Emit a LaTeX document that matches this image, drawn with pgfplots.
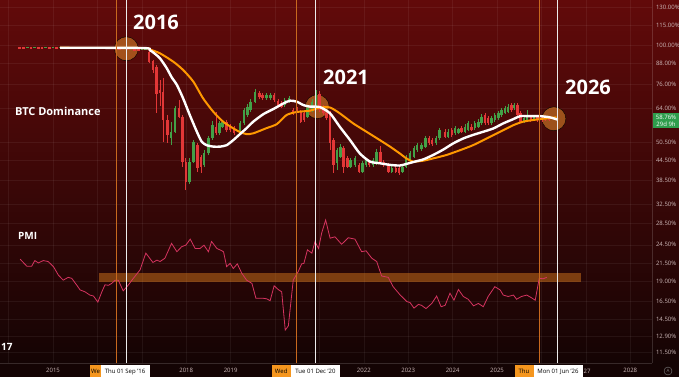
\documentclass[border=0pt]{standalone}
\usepackage{fontspec}
\setmainfont{Open Sans}
\usepackage{pgfplots}
\pgfplotsset{compat=1.18}
\definecolor{bgtop}{RGB}{98,10,10}
\definecolor{bgbot}{RGB}{20,4,4}
\definecolor{cgreen}{RGB}{67,160,71}
\definecolor{cred}{RGB}{226,55,55}
\definecolor{maorange}{RGB}{255,152,0}
\definecolor{pmicol}{RGB}{214,52,96}
\definecolor{vorange}{RGB}{200,105,30}
\definecolor{ticktxt}{RGB}{205,185,185}
\definecolor{boxorange}{RGB}{245,150,30}
\definecolor{pricegreen}{RGB}{46,158,76}
\definecolor{circorange}{RGB}{215,130,40}
\definecolor{bandorange}{RGB}{230,130,30}
\begin{document}
\begin{tikzpicture}
\useasboundingbox (0,0) rectangle (679pt,377pt);
\shade[top color=bgtop, bottom color=bgbot] (0pt,14pt) rectangle (679pt,377pt);
\fill[bgbot] (0,0) rectangle (679pt,14pt);
% axis A: ticks, grid and highlight circles
\begin{axis}[at={(0pt,14pt)}, anchor=south west, scale only axis, width=652pt, height=363pt,
  xmin=2013.806, xmax=2028.49, ymode=log, ymin=10.66, ymax=137.3,
  axis x line*=bottom, axis y line*=right,
  axis line style={draw=white, draw opacity=0.15, line width=0.5pt},
  major tick length=0pt,
  xtick={2014,2015,2016,2017,2018,2019,2020,2021,2022,2023,2024,2025,2026,2027,2028},
  xticklabels={,2015,,,2018,2019,,,2022,2023,2024,2025,,,2028},
  ytick={130,115,100,88,76,64,50.5,44.5,38.5,32.5,28.5,24.5,21.5,19,16.5,14.5,12.9,11.5},
  yticklabels={130.00\%,115.00\%,100.00\%,88.00\%,76.00\%,64.00\%,50.50\%,44.50\%,38.50\%,32.50\%,28.50\%,24.50\%,21.50\%,19.00\%,16.50\%,14.50\%,12.90\%,11.50\%},
  grid=major, grid style={draw=white, draw opacity=0.06, line width=0.5pt},
  tick label style={font=\fontsize{6}{7}\selectfont, text=ticktxt},
  xticklabel style={anchor=center, yshift=-7.5pt},
  yticklabel style={anchor=west, xshift=0.5pt}, clip=true]
\addplot[only marks, mark=*, mark size=12pt, mark options={fill=circorange, fill opacity=0.6, draw=none}] coordinates {
(2016.65,97.4)(2020.95,64.8)(2026.28,59.5)};
\end{axis}
% axis B: candles
\begin{axis}[at={(0pt,14pt)}, anchor=south west, scale only axis, width=652pt, height=363pt,
  xmin=2013.806, xmax=2028.49, ymode=log, ymin=10.66, ymax=137.3,
  hide axis, unbounded coords=jump, filter discard warning=false, clip=true]
\addplot[cred, line width=2.5pt] coordinates {
(2014.25,98.3)(2014.25,97.5)(2014.25,nan)(2014.33,98.3)(2014.33,97.5)(2014.33,nan)
(2014.50,98.3)(2014.50,97.5)(2014.50,nan)(2014.67,98.3)(2014.67,97.5)(2014.67,nan)
(2014.75,98.3)(2014.75,97.5)(2014.75,nan)(2014.92,98.3)(2014.92,97.5)(2014.92,nan)
(2015.08,98.3)(2015.08,97.5)(2015.08,nan)(2015.25,98.3)(2015.25,97.5)(2015.25,nan)
(2015.42,98.3)(2015.42,97.5)(2015.42,nan)(2015.58,98.3)(2015.58,97.5)(2015.58,nan)
(2015.75,98.3)(2015.75,97.5)(2015.75,nan)(2015.92,98.3)(2015.92,97.5)(2015.92,nan)
(2016.08,98.3)(2016.08,97.5)(2016.08,nan)(2016.25,98.3)(2016.25,97.5)(2016.25,nan)
(2016.42,97.8)(2016.42,96.7)(2016.42,nan)(2016.50,97.8)(2016.50,96.6)(2016.50,nan)
(2016.67,97.6)(2016.67,96.5)(2016.67,nan)(2016.83,97.6)(2016.83,96.2)(2016.83,nan)
(2016.92,97.4)(2016.92,96.0)(2016.92,nan)};
\addplot[cgreen, line width=2.5pt] coordinates {
(2014.42,98.3)(2014.42,97.6)(2014.42,nan)(2014.58,98.3)(2014.58,97.6)(2014.58,nan)
(2014.83,98.3)(2014.83,97.6)(2014.83,nan)(2015.00,98.3)(2015.00,97.6)(2015.00,nan)
(2015.17,98.3)(2015.17,97.6)(2015.17,nan)(2015.33,98.3)(2015.33,97.6)(2015.33,nan)
(2015.50,98.3)(2015.50,97.6)(2015.50,nan)(2015.67,98.3)(2015.67,97.6)(2015.67,nan)
(2015.83,98.3)(2015.83,97.6)(2015.83,nan)(2016.00,98.3)(2016.00,97.6)(2016.00,nan)
(2016.17,98.3)(2016.17,97.6)(2016.17,nan)(2016.33,98.3)(2016.33,97.6)(2016.33,nan)
(2016.58,97.8)(2016.58,96.9)(2016.58,nan)(2016.75,97.8)(2016.75,96.9)(2016.75,nan)
(2017.00,97.6)(2017.00,96.6)(2017.00,nan)(2017.08,97.4)(2017.08,96.4)(2017.08,nan)};
\addplot[cred, line width=0.7pt] coordinates {
(2017.16,96.5)(2017.16,88.1)(2017.16,nan)(2017.25,90.0)(2017.25,82.2)(2017.25,nan)
(2017.33,86.9)(2017.33,61.9)(2017.33,nan)(2017.41,78.2)(2017.41,65.1)(2017.41,nan)
(2017.48,79.3)(2017.48,50.6)(2017.48,nan)(2017.58,61.1)(2017.58,50.1)(2017.58,nan)
(2017.84,67.9)(2017.84,59.8)(2017.84,nan)(2017.92,61.1)(2017.92,42.5)(2017.92,nan)
(2017.99,45.1)(2017.99,36.0)(2017.99,nan)(2018.25,50.1)(2018.25,40.9)(2018.25,nan)
(2018.33,46.1)(2018.33,40.6)(2018.33,nan)(2018.67,62.4)(2018.67,53.1)(2018.67,nan)
(2018.91,59.0)(2018.91,54.2)(2018.91,nan)(2018.99,57.3)(2018.99,54.2)(2018.99,nan)
(2019.08,56.5)(2019.08,53.1)(2019.08,nan)(2019.65,72.3)(2019.65,68.4)(2019.65,nan)
(2019.72,71.2)(2019.72,67.9)(2019.72,nan)(2019.98,71.2)(2019.98,67.0)(2019.98,nan)
(2020.07,68.4)(2020.07,64.6)(2020.07,nan)(2020.15,67.4)(2020.15,64.2)(2020.15,nan)
(2020.41,64.2)(2020.41,61.1)(2020.41,nan)(2020.49,66.0)(2020.49,61.1)(2020.49,nan)
(2020.58,63.3)(2020.58,57.8)(2020.58,nan)(2020.65,62.8)(2020.65,58.2)(2020.65,nan)
(2021.00,72.3)(2021.00,62.4)(2021.00,nan)(2021.09,65.5)(2021.09,61.1)(2021.09,nan)
(2021.16,62.8)(2021.16,59.0)(2021.16,nan)(2021.24,62.8)(2021.24,47.7)(2021.24,nan)
(2021.32,51.9)(2021.32,40.6)(2021.32,nan)(2021.54,49.1)(2021.54,40.6)(2021.54,nan)
(2021.63,45.8)(2021.63,42.1)(2021.63,nan)(2021.89,43.6)(2021.89,40.6)(2021.89,nan)
(2022.12,44.5)(2022.12,42.4)(2022.12,nan)(2022.38,49.1)(2022.38,43.6)(2022.38,nan)
(2022.45,44.5)(2022.45,42.4)(2022.45,nan)(2022.55,43.6)(2022.55,40.6)(2022.55,nan)
(2022.72,42.7)(2022.72,40.6)(2022.72,nan)(2022.79,42.7)(2022.79,40.0)(2022.79,nan)
(2023.47,52.7)(2023.47,49.4)(2023.47,nan)(2023.54,51.9)(2023.54,49.1)(2023.54,nan)
(2023.83,55.3)(2023.83,51.9)(2023.83,nan)(2023.98,55.7)(2023.98,52.3)(2023.98,nan)
(2024.20,56.5)(2024.20,53.8)(2024.20,nan)(2024.43,57.3)(2024.43,54.6)(2024.43,nan)
(2024.73,61.9)(2024.73,56.9)(2024.73,nan)(2024.80,60.7)(2024.80,56.9)(2024.80,nan)
(2025.33,66.5)(2025.33,62.4)(2025.33,nan)(2025.46,66.5)(2025.46,60.2)(2025.46,nan)
(2025.53,62.8)(2025.53,57.8)(2025.53,nan)(2025.76,61.1)(2025.76,58.2)(2025.76,nan)
(2025.91,61.1)(2025.91,58.2)(2025.91,nan)(2026.01,61.1)(2026.01,58.2)(2026.01,nan)
(2026.08,60.7)(2026.08,58.6)(2026.08,nan)(2026.17,60.4)(2026.17,58.6)(2026.17,nan)};
\addplot[cred, line width=2.5pt] coordinates {
(2017.16,95.4)(2017.16,88.9)(2017.16,nan)(2017.25,89.4)(2017.25,83.9)(2017.25,nan)
(2017.33,85.8)(2017.33,71.0)(2017.33,nan)(2017.41,72.8)(2017.41,71.2)(2017.41,nan)
(2017.48,72.0)(2017.48,59.0)(2017.48,nan)(2017.58,59.0)(2017.58,53.1)(2017.58,nan)
(2017.84,64.2)(2017.84,60.4)(2017.84,nan)(2017.92,60.4)(2017.92,44.0)(2017.92,nan)
(2017.99,44.0)(2017.99,38.2)(2017.99,nan)(2018.25,49.4)(2018.25,42.0)(2018.25,nan)
(2018.33,45.6)(2018.33,42.5)(2018.33,nan)(2018.67,56.2)(2018.67,53.7)(2018.67,nan)
(2018.91,58.0)(2018.91,55.0)(2018.91,nan)(2018.99,56.7)(2018.99,55.0)(2018.99,nan)
(2019.08,55.6)(2019.08,53.7)(2019.08,nan)(2019.65,71.4)(2019.65,69.2)(2019.65,nan)
(2019.72,70.3)(2019.72,68.7)(2019.72,nan)(2019.98,70.3)(2019.98,67.9)(2019.98,nan)
(2020.07,67.6)(2020.07,65.5)(2020.07,nan)(2020.15,66.3)(2020.15,64.8)(2020.15,nan)
(2020.41,63.3)(2020.41,61.8)(2020.41,nan)(2020.49,64.8)(2020.49,61.8)(2020.49,nan)
(2020.58,62.5)(2020.58,58.3)(2020.58,nan)(2020.65,61.8)(2020.65,59.0)(2020.65,nan)
(2021.00,71.0)(2021.00,63.3)(2021.00,nan)(2021.09,64.8)(2021.09,61.8)(2021.09,nan)
(2021.16,61.8)(2021.16,59.7)(2021.16,nan)(2021.24,61.8)(2021.24,50.0)(2021.24,nan)
(2021.32,51.2)(2021.32,43.0)(2021.32,nan)(2021.54,48.3)(2021.54,42.5)(2021.54,nan)
(2021.63,45.0)(2021.63,42.5)(2021.63,nan)(2021.89,43.0)(2021.89,41.0)(2021.89,nan)
(2022.12,44.0)(2022.12,43.0)(2022.12,nan)(2022.38,47.2)(2022.38,44.0)(2022.38,nan)
(2022.45,44.0)(2022.45,43.0)(2022.45,nan)(2022.55,43.0)(2022.55,41.0)(2022.55,nan)
(2022.72,42.0)(2022.72,41.0)(2022.72,nan)(2022.79,42.0)(2022.79,40.5)(2022.79,nan)
(2023.47,51.8)(2023.47,50.0)(2023.47,nan)(2023.54,51.2)(2023.54,49.8)(2023.54,nan)
(2023.83,54.3)(2023.83,52.4)(2023.83,nan)(2023.98,55.0)(2023.98,53.1)(2023.98,nan)
(2024.20,55.6)(2024.20,54.3)(2024.20,nan)(2024.43,56.2)(2024.43,55.0)(2024.43,nan)
(2024.73,61.1)(2024.73,57.6)(2024.73,nan)(2024.80,59.7)(2024.80,57.6)(2024.80,nan)
(2025.33,65.5)(2025.33,63.3)(2025.33,nan)(2025.46,65.5)(2025.46,61.1)(2025.46,nan)
(2025.53,61.8)(2025.53,58.3)(2025.53,nan)(2025.76,60.4)(2025.76,59.0)(2025.76,nan)
(2025.91,60.4)(2025.91,59.0)(2025.91,nan)(2026.01,60.1)(2026.01,59.0)(2026.01,nan)
(2026.08,60.2)(2026.08,59.4)(2026.08,nan)(2026.17,59.8)(2026.17,58.8)(2026.17,nan)};
\addplot[cgreen, line width=0.7pt] coordinates {
(2017.66,58.2)(2017.66,49.4)(2017.66,nan)(2017.75,65.1)(2017.75,53.8)(2017.75,nan)
(2018.07,45.1)(2018.07,37.6)(2018.07,nan)(2018.16,51.2)(2018.16,43.6)(2018.16,nan)
(2018.40,47.7)(2018.40,42.4)(2018.40,nan)(2018.50,52.7)(2018.50,46.1)(2018.50,nan)
(2018.59,58.6)(2018.59,51.2)(2018.59,nan)(2018.75,58.6)(2018.75,53.1)(2018.75,nan)
(2018.82,59.0)(2018.82,55.7)(2018.82,nan)(2019.21,58.6)(2019.21,53.1)(2019.21,nan)
(2019.30,64.2)(2019.30,56.9)(2019.30,nan)(2019.38,66.0)(2019.38,60.2)(2019.38,nan)
(2019.45,68.4)(2019.45,62.4)(2019.45,nan)(2019.55,73.4)(2019.55,66.5)(2019.55,nan)
(2019.81,71.2)(2019.81,67.9)(2019.81,nan)(2019.90,71.2)(2019.90,67.9)(2019.90,nan)
(2020.22,68.9)(2020.22,64.6)(2020.22,nan)(2020.32,69.8)(2020.32,66.5)(2020.32,nan)
(2020.73,65.1)(2020.73,59.8)(2020.73,nan)(2020.83,68.4)(2020.83,62.4)(2020.83,nan)
(2020.92,72.8)(2020.92,64.2)(2020.92,nan)(2021.40,48.4)(2021.40,41.5)(2021.40,nan)
(2021.48,49.8)(2021.48,45.1)(2021.48,nan)(2021.70,45.1)(2021.70,42.1)(2021.70,nan)
(2021.80,45.8)(2021.80,42.4)(2021.80,nan)(2021.97,44.2)(2021.97,40.6)(2021.97,nan)
(2022.05,45.1)(2022.05,42.4)(2022.05,nan)(2022.21,45.1)(2022.21,42.4)(2022.21,nan)
(2022.29,48.1)(2022.29,43.0)(2022.29,nan)(2022.63,42.7)(2022.63,40.6)(2022.63,nan)
(2022.87,43.0)(2022.87,40.6)(2022.87,nan)(2022.95,46.1)(2022.95,42.1)(2022.95,nan)
(2023.04,47.4)(2023.04,43.9)(2023.04,nan)(2023.13,49.1)(2023.13,45.1)(2023.13,nan)
(2023.20,50.1)(2023.20,47.1)(2023.20,nan)(2023.30,50.1)(2023.30,47.4)(2023.30,nan)
(2023.39,52.7)(2023.39,48.4)(2023.39,nan)(2023.63,52.7)(2023.63,49.4)(2023.63,nan)
(2023.70,55.7)(2023.70,51.2)(2023.70,nan)(2023.90,55.3)(2023.90,51.9)(2023.90,nan)
(2024.05,56.5)(2024.05,53.1)(2024.05,nan)(2024.13,55.7)(2024.13,53.4)(2024.13,nan)
(2024.28,57.3)(2024.28,53.8)(2024.28,nan)(2024.35,58.6)(2024.35,54.6)(2024.35,nan)
(2024.50,58.6)(2024.50,55.0)(2024.50,nan)(2024.58,59.4)(2024.58,55.7)(2024.58,nan)
(2024.65,61.5)(2024.65,56.9)(2024.65,nan)(2024.88,60.7)(2024.88,56.9)(2024.88,nan)
(2024.95,61.9)(2024.95,58.2)(2024.95,nan)(2025.03,62.8)(2025.03,59.0)(2025.03,nan)
(2025.10,64.2)(2025.10,60.2)(2025.10,nan)(2025.18,65.1)(2025.18,61.5)(2025.18,nan)
(2025.25,66.0)(2025.25,61.9)(2025.25,nan)(2025.38,66.5)(2025.38,63.3)(2025.38,nan)
(2025.61,60.7)(2025.61,57.8)(2025.61,nan)(2025.68,63.3)(2025.68,58.2)(2025.68,nan)
(2025.83,61.1)(2025.83,58.6)(2025.83,nan)};
\addplot[cgreen, line width=2.5pt] coordinates {
(2017.66,54.3)(2017.66,51.8)(2017.66,nan)(2017.75,64.2)(2017.75,54.3)(2017.75,nan)
(2018.07,44.0)(2018.07,38.2)(2018.07,nan)(2018.16,50.6)(2018.16,44.0)(2018.16,nan)
(2018.40,46.6)(2018.40,43.0)(2018.40,nan)(2018.50,51.8)(2018.50,46.6)(2018.50,nan)
(2018.59,56.9)(2018.59,51.8)(2018.59,nan)(2018.75,57.6)(2018.75,53.7)(2018.75,nan)
(2018.82,58.0)(2018.82,56.2)(2018.82,nan)(2019.21,57.6)(2019.21,53.7)(2019.21,nan)
(2019.30,63.3)(2019.30,57.6)(2019.30,nan)(2019.38,64.8)(2019.38,61.1)(2019.38,nan)
(2019.45,67.1)(2019.45,63.3)(2019.45,nan)(2019.55,71.9)(2019.55,67.1)(2019.55,nan)
(2019.81,70.3)(2019.81,68.7)(2019.81,nan)(2019.90,70.3)(2019.90,68.7)(2019.90,nan)
(2020.22,67.9)(2020.22,65.5)(2020.22,nan)(2020.32,68.7)(2020.32,67.1)(2020.32,nan)
(2020.73,64.1)(2020.73,60.4)(2020.73,nan)(2020.83,67.1)(2020.83,63.3)(2020.83,nan)
(2020.92,71.0)(2020.92,64.8)(2020.92,nan)(2021.40,47.7)(2021.40,43.5)(2021.40,nan)
(2021.48,48.9)(2021.48,45.6)(2021.48,nan)(2021.70,44.5)(2021.70,42.5)(2021.70,nan)
(2021.80,45.0)(2021.80,43.0)(2021.80,nan)(2021.97,43.5)(2021.97,41.0)(2021.97,nan)
(2022.05,44.5)(2022.05,43.0)(2022.05,nan)(2022.21,44.5)(2022.21,43.0)(2022.21,nan)
(2022.29,47.2)(2022.29,43.5)(2022.29,nan)(2022.63,42.0)(2022.63,41.0)(2022.63,nan)
(2022.87,42.5)(2022.87,41.0)(2022.87,nan)(2022.95,45.6)(2022.95,42.5)(2022.95,nan)
(2023.04,46.6)(2023.04,44.5)(2023.04,nan)(2023.13,48.3)(2023.13,45.6)(2023.13,nan)
(2023.20,49.4)(2023.20,47.7)(2023.20,nan)(2023.30,49.4)(2023.30,48.0)(2023.30,nan)
(2023.39,51.8)(2023.39,48.9)(2023.39,nan)(2023.63,51.8)(2023.63,50.0)(2023.63,nan)
(2023.70,55.0)(2023.70,51.8)(2023.70,nan)(2023.90,54.3)(2023.90,52.4)(2023.90,nan)
(2024.05,55.7)(2024.05,53.7)(2024.05,nan)(2024.13,55.2)(2024.13,53.9)(2024.13,nan)
(2024.28,56.2)(2024.28,54.3)(2024.28,nan)(2024.35,57.6)(2024.35,55.0)(2024.35,nan)
(2024.50,57.6)(2024.50,55.6)(2024.50,nan)(2024.58,58.3)(2024.58,56.2)(2024.58,nan)
(2024.65,60.4)(2024.65,57.6)(2024.65,nan)(2024.88,59.7)(2024.88,57.6)(2024.88,nan)
(2024.95,61.1)(2024.95,59.0)(2024.95,nan)(2025.03,61.8)(2025.03,59.7)(2025.03,nan)
(2025.10,63.3)(2025.10,61.1)(2025.10,nan)(2025.18,64.1)(2025.18,62.1)(2025.18,nan)
(2025.25,64.8)(2025.25,62.5)(2025.25,nan)(2025.38,65.5)(2025.38,64.1)(2025.38,nan)
(2025.61,59.7)(2025.61,58.3)(2025.61,nan)(2025.68,60.4)(2025.68,59.0)(2025.68,nan)
(2025.83,60.1)(2025.83,59.3)(2025.83,nan)};
\end{axis}
% axis D: moving averages
\begin{axis}[at={(0pt,14pt)}, anchor=south west, scale only axis, width=652pt, height=363pt,
  xmin=2013.806, xmax=2028.49, ymode=log, ymin=10.66, ymax=137.3, hide axis, clip=true]
\addplot[maorange, line width=2pt, smooth, tension=0.4] coordinates {
(2015.16,98.1)(2017.03,97.9)(2017.18,96.9)(2017.41,94.3)(2017.71,88.9)(2017.93,83.9)
(2018.16,77.3)(2018.38,68.7)(2018.61,62.5)(2018.83,58.3)(2019.06,55.6)(2019.21,54.2)
(2019.36,53.4)(2019.51,53.7)(2019.81,55.7)(2020.04,57.3)(2020.26,61.1)(2020.49,62.4)
(2020.79,63.0)(2021.01,64.4)(2021.24,64.4)(2021.46,61.8)(2021.76,57.6)(2022.06,54.3)
(2022.36,51.2)(2022.59,48.9)(2022.81,46.6)(2022.96,45.0)(2023.11,44.0)(2023.34,44.3)
(2023.56,45.0)(2023.86,46.1)(2024.17,47.7)(2024.46,49.4)(2024.77,51.8)(2025.07,54.3)
(2025.37,56.9)(2025.59,58.3)(2025.82,59.0)(2026.12,59.7)(2026.34,60.1)};
\addplot[white, line width=2.4pt, smooth, tension=0.4] coordinates {
(2015.16,98.1)(2017.03,97.9)(2017.18,96.5)(2017.30,93.9)(2017.41,91.0)(2017.56,85.0)
(2017.67,79.8)(2017.79,75.5)(2017.93,68.7)(2018.08,61.1)(2018.24,54.3)(2018.35,50.6)
(2018.46,49.4)(2018.61,48.9)(2018.76,48.9)(2018.91,49.4)(2019.06,51.2)(2019.21,53.4)
(2019.36,55.7)(2019.51,58.3)(2019.74,61.5)(2019.96,63.7)(2020.19,66.3)(2020.34,67.6)
(2020.49,67.1)(2020.64,65.5)(2020.79,64.8)(2021.01,64.6)(2021.24,61.8)(2021.46,56.2)
(2021.69,51.2)(2021.91,46.6)(2022.14,44.0)(2022.36,43.5)(2022.59,43.0)(2022.81,42.8)
(2022.96,43.3)(2023.15,44.0)(2023.34,44.7)(2023.56,46.1)(2023.79,47.9)(2024.01,50.0)
(2024.24,51.8)(2024.46,53.1)(2024.69,54.3)(2024.92,55.6)(2025.14,57.6)(2025.36,59.3)
(2025.52,60.6)(2025.74,60.6)(2025.97,60.6)(2026.19,60.1)(2026.37,59.1)};
\end{axis}
% axis C: PMI
\begin{axis}[at={(0pt,14pt)}, anchor=south west, scale only axis, width=652pt, height=363pt,
  xmin=2013.806, xmax=2028.49, ymin=34.23, ymax=112.1, hide axis, clip=true]
\addplot[fill=bandorange, fill opacity=0.45, draw=none] coordinates {
(2016.04,51.6)(2026.89,51.6)(2026.89,53.5)(2016.04,53.5)} -- cycle;
\addplot[pmicol, line width=0.8pt] coordinates {
(2014.26,56.5)(2014.41,55.0)(2014.52,55.0)(2014.59,56.2)(2014.67,55.7)(2014.78,56.2)(2014.89,56.0)
(2015.01,54.9)(2015.12,53.1)(2015.23,52.0)(2015.34,52.6)(2015.42,52.4)(2015.53,51.0)(2015.61,49.9)
(2015.72,49.5)(2015.83,48.8)(2015.91,48.6)(2016.01,47.3)(2016.10,49.5)(2016.17,51.0)(2016.25,50.9)
(2016.32,51.3)(2016.40,52.0)(2016.47,52.0)(2016.58,49.7)(2016.70,51.0)(2016.81,52.4)(2016.96,54.2)
(2017.09,57.8)(2017.25,55.8)(2017.34,56.3)(2017.41,56.0)(2017.52,56.7)(2017.67,59.9)(2017.79,58.1)
(2017.90,59.2)(2017.99,59.5)(2018.09,60.8)(2018.20,58.8)(2018.31,58.8)(2018.40,59.5)(2018.50,58.1)
(2018.57,60.3)(2018.69,58.8)(2018.76,58.5)(2018.84,58.1)(2018.91,54.9)(2018.99,55.6)(2019.06,54.5)
(2019.15,55.5)(2019.25,53.5)(2019.36,52.0)(2019.48,51.3)(2019.57,48.1)(2019.74,48.1)(2019.81,48.0)
(2019.89,47.6)(2019.98,50.8)(2020.07,50.0)(2020.15,49.5)(2020.23,41.3)(2020.30,42.2)(2020.41,52.0)
(2020.52,53.8)(2020.60,55.5)(2020.65,55.6)(2020.73,58.5)(2020.83,57.8)(2020.90,60.3)(2020.98,58.8)
(2021.05,62.1)(2021.14,64.9)(2021.24,61.0)(2021.35,61.3)(2021.50,59.7)(2021.65,61.1)(2021.80,60.8)
(2021.95,58.1)(2022.05,58.3)(2022.18,56.7)(2022.29,56.0)(2022.40,52.9)(2022.55,52.6)(2022.66,50.6)
(2022.82,48.8)(2022.97,47.4)(2023.04,47.2)(2023.13,46.0)(2023.23,46.8)(2023.30,46.6)(2023.40,45.9)
(2023.53,47.0)(2023.64,48.6)(2023.74,46.3)(2023.83,46.6)(2023.94,49.2)(2024.03,47.7)(2024.13,50.0)
(2024.24,48.5)(2024.35,47.9)(2024.47,46.5)(2024.58,47.0)(2024.69,46.3)(2024.80,48.5)(2024.95,50.6)
(2025.07,49.9)(2025.14,48.8)(2025.25,48.5)(2025.37,48.8)(2025.44,47.9)(2025.55,48.5)(2025.67,48.8)
(2025.78,48.2)(2025.86,47.7)(2025.95,52.4)(2026.04,52.3)(2026.12,52.6)};
\addplot[vorange, line width=0.7pt] coordinates {(2016.42,34.23)(2016.42,112.1)};
\addplot[vorange, line width=0.7pt] coordinates {(2020.49,34.23)(2020.49,112.1)};
\addplot[vorange, line width=0.7pt] coordinates {(2025.95,34.23)(2025.95,112.1)};
\addplot[white!85!gray, line width=1.3pt] coordinates {(2016.66,34.23)(2016.66,112.1)};
\addplot[white!85!gray, line width=1.3pt] coordinates {(2020.91,34.23)(2020.91,112.1)};
\addplot[white!85!gray, line width=1.3pt] coordinates {(2026.36,34.23)(2026.36,112.1)};
\end{axis}
\begin{scope}[x=1pt, y=1pt, font=\fontsize{6}{7}\selectfont]
\fill[boxorange] (90,0) rectangle (100.5,12);
\node[inner sep=0pt, text=black] at (95.5,5.5) {We};
\fill[white] (100.5,0) rectangle (149.5,12);
\node[text=black, inner sep=0pt] at (125,5.5) {Thu 01 Sep '16};
\fill[boxorange] (271.5,0) rectangle (291,12);
\node[inner sep=0pt, text=black] at (281.2,5.5) {Wed};
\fill[white] (291,0) rectangle (340,12);
\node[text=black, inner sep=0pt] at (315.5,5.5) {Tue 01 Dec '20};
\fill[boxorange] (514.5,0) rectangle (533.6,12);
\node[inner sep=0pt, text=black] at (524,5.5) {Thu};
\fill[white] (533.6,0) rectangle (582.5,12);
\node[text=black, inner sep=0pt] at (558,5.5) {Mon 01 Jun '26};
\node[text=ticktxt, anchor=west, inner sep=0pt] at (583.5,5.5) {27};
\fill[pricegreen] (653,249) rectangle (679,264);
\node[text=white, inner sep=0pt] at (666,260) {58.76\%};
\node[text=white, inner sep=0pt] at (666,253) {29d 9h};
\draw[gray, line width=0.4pt] (668,6) circle (4);
\node[text=gray, inner sep=0pt, font=\fontsize{4.5}{5}\selectfont] at (668,6) {A};
\node[text=white, font=\bfseries\fontsize{20}{20}\selectfont] at (156,355) {2016};
\node[text=white, font=\bfseries\fontsize{20}{20}\selectfont] at (346,300) {2021};
\node[text=white, font=\bfseries\fontsize{20}{20}\selectfont] at (588,290) {2026};
\node[text=white, anchor=west, inner sep=0pt, font=\bfseries\fontsize{11}{11}\selectfont] at (15,266) {BTC Dominance};
\node[text=white, anchor=west, inner sep=0pt, font=\bfseries\fontsize{10}{10}\selectfont] at (18,141) {PMI};
\node[text=white, anchor=west, inner sep=0pt, font=\bfseries\fontsize{10}{10}\selectfont] at (1,30) {17};
\end{scope}
\end{tikzpicture}
\end{document}
